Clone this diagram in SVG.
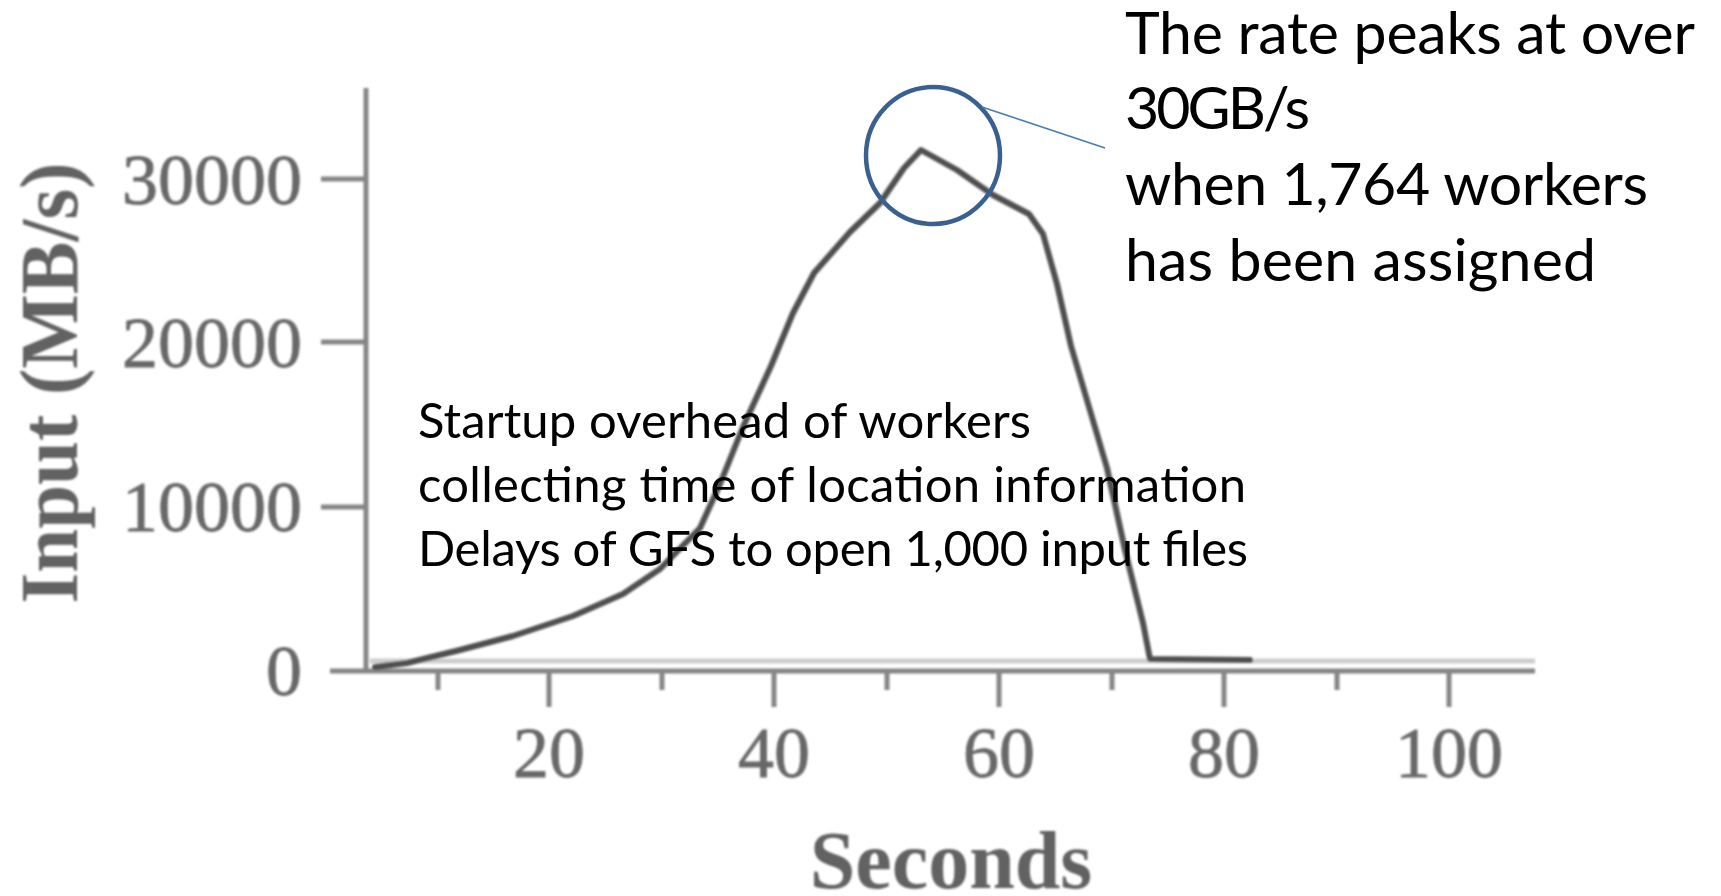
<svg xmlns="http://www.w3.org/2000/svg" width="1721" height="896" viewBox="0 0 1721 896">
  <defs>
    <!-- soft edge for the scanned plot -->
    <filter id="soft" x="-5%" y="-5%" width="110%" height="110%">
      <feGaussianBlur stdDeviation="1.3"/>
    </filter>
    <style>
      .axis { stroke: #858585; stroke-width: 5; fill: none; stroke-linecap: butt; }
      .axis-light { stroke: #cdcdcd; stroke-width: 5; fill: none; }
      .tick { stroke: #858585; stroke-width: 5; fill: none; }
      .curve { stroke: #4f4f4f; stroke-width: 6; fill: none; stroke-linejoin: round; stroke-linecap: round; }
      .tick-label { font-family: "Liberation Serif", "DejaVu Serif", serif; font-size: 72px; fill: #686868; stroke: #686868; stroke-width: 0.8; }
      .axis-title { font-family: "Liberation Serif", "DejaVu Serif", serif; font-size: 82px; font-weight: bold; fill: #626262; }
      .note { font-family: Lato, "Open Sans", "Liberation Sans", sans-serif; fill: #000000; }
      .note-big { font-size: 59px; }
      .note-mid { font-size: 49px; }
      .ring { stroke: #3a6091; stroke-width: 4.5; fill: none; }
      .leader { stroke: #4a7ebb; stroke-width: 1.8; fill: none; }
    </style>
  </defs>

  <rect width="1721" height="896" fill="#ffffff"/>

  <!-- input rate plot -->
  <g id="chart" filter="url(#soft)">
    <!-- axes -->
    <line class="axis-light" x1="370" y1="661" x2="1535" y2="661"/>
    <line class="axis" x1="330" y1="671" x2="1535" y2="671"/>
    <line class="axis" x1="366" y1="88" x2="366" y2="673"/>

    <!-- y ticks -->
    <line class="tick" x1="321" y1="179" x2="366" y2="179"/>
    <line class="tick" x1="321" y1="342" x2="366" y2="342"/>
    <line class="tick" x1="321" y1="507" x2="366" y2="507"/>

    <!-- x ticks: minor every 10 s, major every 20 s -->
    <line class="tick" x1="438" y1="671" x2="438" y2="690"/>
    <line class="tick" x1="549" y1="671" x2="549" y2="707"/>
    <line class="tick" x1="662" y1="671" x2="662" y2="690"/>
    <line class="tick" x1="774" y1="671" x2="774" y2="707"/>
    <line class="tick" x1="887" y1="671" x2="887" y2="690"/>
    <line class="tick" x1="999" y1="671" x2="999" y2="707"/>
    <line class="tick" x1="1112" y1="671" x2="1112" y2="690"/>
    <line class="tick" x1="1224" y1="671" x2="1224" y2="707"/>
    <line class="tick" x1="1337" y1="671" x2="1337" y2="690"/>
    <line class="tick" x1="1449" y1="671" x2="1449" y2="707"/>

    <!-- y tick labels -->
    <text class="tick-label" x="302" y="204" text-anchor="end">30000</text>
    <text class="tick-label" x="302" y="367" text-anchor="end">20000</text>
    <text class="tick-label" x="302" y="531" text-anchor="end">10000</text>
    <text class="tick-label" x="302" y="695" text-anchor="end">0</text>

    <!-- x tick labels -->
    <text class="tick-label" x="549" y="777" text-anchor="middle">20</text>
    <text class="tick-label" x="774" y="777" text-anchor="middle">40</text>
    <text class="tick-label" x="999" y="777" text-anchor="middle">60</text>
    <text class="tick-label" x="1224" y="777" text-anchor="middle">80</text>
    <text class="tick-label" x="1449" y="777" text-anchor="middle">100</text>

    <!-- axis titles -->
    <text class="axis-title" x="951" y="888" text-anchor="middle">Seconds</text>
    <text class="axis-title" transform="translate(77,383) rotate(-90)" x="0" y="0" text-anchor="middle" textLength="441" lengthAdjust="spacingAndGlyphs">Input (MB/s)</text>

    <!-- input rate over time -->
    <path class="curve" d="M375,667 L407,663 L460,650 L513,636 L573,616 L623,594 L660,569 L700,528 L720,484 L743,427 L771,366 L793,313 L814,273 L850,232 L880,203 L904,168 L921,150 L957,170 L993,195 L1029,214 L1043,234 L1057,284 L1071,346 L1089,407 L1107,468 L1125,550 L1143,623 L1150,659 L1250,660"/>
  </g>

  <!-- highlight around the peak -->
  <g id="peak-marker">
    <ellipse class="ring" cx="933" cy="155.5" rx="67" ry="68.5"/>
  </g>

  <!-- leader from the marker to its note -->
  <g id="connectors">
    <line class="leader" x1="982" y1="107" x2="1105" y2="148"/>
  </g>

  <g id="note-peak">
    <text class="note note-big" x="1125" y="54" textLength="570" lengthAdjust="spacing">The rate peaks at over</text>
    <text class="note note-big" x="1125" y="129" textLength="185" lengthAdjust="spacing">30GB/s</text>
    <text class="note note-big" x="1125" y="205" textLength="523" lengthAdjust="spacing">when 1,764 workers</text>
    <text class="note note-big" x="1125" y="281" textLength="471" lengthAdjust="spacing">has been assigned</text>
  </g>

  <g id="note-startup">
    <text class="note note-mid" x="418" y="438" textLength="613" lengthAdjust="spacing">Startup overhead of workers</text>
    <text class="note note-mid" x="418" y="502" textLength="828" lengthAdjust="spacing">collecting time of location information</text>
    <text class="note note-mid" x="418" y="566" textLength="830" lengthAdjust="spacing">Delays of GFS to open 1,000 input files</text>
  </g>
</svg>
